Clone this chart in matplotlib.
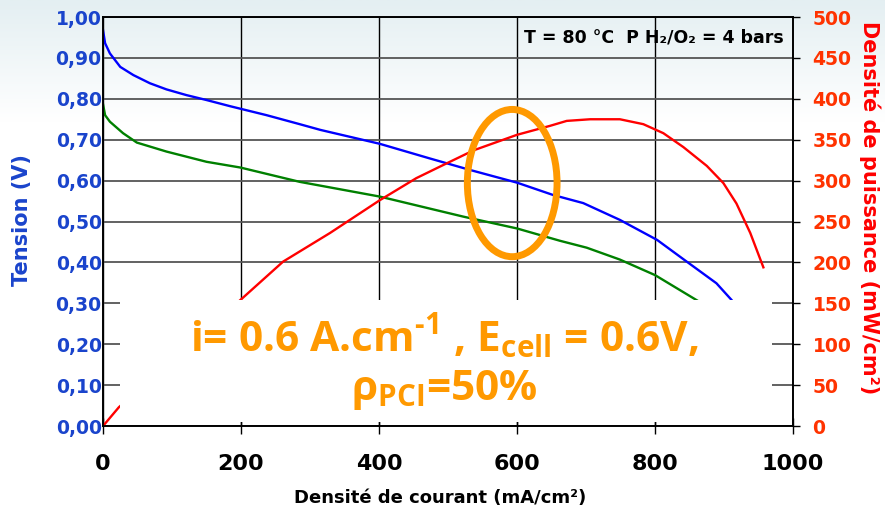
import matplotlib
matplotlib.use("Agg")
import matplotlib.pyplot as plt
import numpy as np
from matplotlib.colors import LinearSegmentedColormap
from matplotlib.patches import Ellipse, Rectangle

# current density (mA/cm2) and cell voltage (V), curve 1 (blue)
i_blue = [0, 3, 10, 25, 44, 68, 92, 121, 150, 184, 237, 285, 315, 401, 474,
          532, 600, 652, 696, 749, 803, 841, 889, 911, 930]
v_blue = [0.968, 0.936, 0.911, 0.878, 0.858, 0.838, 0.823, 0.809, 0.797, 0.782,
          0.760, 0.738, 0.724, 0.690, 0.654, 0.626, 0.595, 0.565, 0.545, 0.504,
          0.455, 0.408, 0.349, 0.308, 0.260]

# curve 2 (green)
i_green = [0, 3, 10, 29, 49, 92, 150, 199, 285, 401, 522, 600, 662, 701, 749,
           800, 862, 880]
v_green = [0.787, 0.760, 0.744, 0.716, 0.693, 0.671, 0.646, 0.632, 0.597, 0.561,
           0.512, 0.483, 0.453, 0.436, 0.407, 0.369, 0.306, 0.280]

# power density (mW/cm2), right axis (red)
i_red = [0, 23, 199, 261, 329, 401, 454, 488, 537, 600, 648, 672, 706, 749, 783,
         812, 841, 875, 899, 918, 938, 952, 957]
p_red = [0, 23, 154, 201, 236, 276, 303, 317, 337, 356, 367, 373, 375, 375, 369,
         358, 341, 318, 297, 272, 236, 205, 194]

x_ticks = [0, 200, 400, 600, 800, 1000]
v_ticks = [0.0, 0.1, 0.2, 0.3, 0.4, 0.5, 0.6, 0.7, 0.8, 0.9, 1.0]
v_labels = ["0,00", "0,10", "0,20", "0,30", "0,40", "0,50", "0,60", "0,70",
            "0,80", "0,90", "1,00"]
p_ticks = [0, 50, 100, 150, 200, 250, 300, 350, 400, 450, 500]

BLUE_TXT = "#1a44cc"
RED_TXT = "#ff3300"
ORANGE = "#ff9900"

plt.rcParams["font.family"] = ["DejaVu Sans"]
plt.rcParams["mathtext.fontset"] = "custom"
plt.rcParams["mathtext.rm"] = "Open Sans:bold"
plt.rcParams["mathtext.bf"] = "Open Sans:bold"
plt.rcParams["mathtext.it"] = "Open Sans:italic"
plt.rcParams["mathtext.default"] = "bf"

fig = plt.figure(figsize=(8.85, 5.09), dpi=100)
fig.patch.set_facecolor("white")

# light gradient background at the top
bg = fig.add_axes([0, 0, 1, 1], zorder=-10)
grad = np.clip(np.linspace(-3.2, 1, 256), 0, 1).reshape(-1, 1)
cmap_bg = LinearSegmentedColormap.from_list("bg", ["#ffffff", "#e4eff2"])
bg.imshow(grad, aspect="auto", extent=[0, 1, 0, 1], origin="lower", cmap=cmap_bg)
bg.axis("off")

ax = fig.add_axes([0.1164, 0.163, 0.7797, 0.8036])
ax.set_facecolor("none")
ax2 = ax.twinx()

ax.plot(i_blue, v_blue, color="#0000ff", lw=1.7, zorder=2)
ax.plot(i_green, v_green, color="#008000", lw=1.7, zorder=2)
ax2.plot(i_red, p_red, color="#ff0000", lw=1.7, zorder=2)

ax.set_xlim(0, 1000)
ax.set_ylim(0, 1.0)
ax2.set_ylim(0, 500)

ax.set_xticks(x_ticks)
ax.set_xticklabels([str(t) for t in x_ticks], fontsize=16, fontweight="bold")
ax.set_yticks(v_ticks)
ax.set_yticklabels(v_labels, fontsize=13.5, fontweight="bold", color=BLUE_TXT)
ax2.set_yticks(p_ticks)
ax2.set_yticklabels([str(t) for t in p_ticks], fontsize=13.5, fontweight="bold",
                    color=RED_TXT)

ax.tick_params(axis="x", direction="inout", length=12, width=1, pad=14)
ax.tick_params(axis="y", length=0, pad=1)
ax2.tick_params(axis="y", direction="out", length=5, width=1, pad=9)

# grid
ax.grid(axis="y", color="#555555", lw=1.3)
ax.grid(axis="x", color="black", lw=1.0)
ax.set_axisbelow(True)
for a in (ax, ax2):
    for s in a.spines.values():
        s.set_color("black")
        s.set_linewidth(1.2)

ax.set_xlabel("Densité de courant (mA/cm²)", fontsize=13, fontweight="bold",
              va="center")
ax.xaxis.set_label_coords(0.488, -0.176)
ax.set_ylabel("Tension (V)", fontsize=15, fontweight="bold", color=BLUE_TXT,
              va="center")
ax.yaxis.set_label_coords(-0.117, 0.504)
ax2.set_ylabel("Densité de puissance (mW/cm²)", fontsize=15, fontweight="bold",
               color="#ff0000", rotation=270, va="center")
ax2.yaxis.set_label_coords(1.111, 0.535)

ax2.text(0.799, 0.951, "T = 80 °C  P H₂/O₂ = 4 bars", transform=ax2.transAxes,
         ha="center", va="center", fontsize=12.5, fontweight="bold", zorder=6)

# white panel with the operating point summary
ax2.add_patch(Rectangle((0.0246, 0.01), 0.945, 0.298, transform=ax2.transAxes,
                        facecolor="white", edgecolor="none", zorder=3))
ax2.text(0.494, 0.218, r"i= 0.6 A.cm$^{\text{-1}}$ , E$_{cell}$ = 0.6V,",
         transform=ax2.transAxes, ha="center", va="center", fontsize=30.5,
         fontweight="bold", family="Open Sans", color=ORANGE, zorder=6)
ax2.text(0.494, 0.088, r"$\rho_{PCI}$=50%", transform=ax2.transAxes,
         ha="center", va="center", fontsize=30.5, fontweight="bold",
         family="Open Sans", color=ORANGE, zorder=6)

ax2.add_patch(Ellipse((593, 0.594), width=130, height=0.36, transform=ax.transData,
                      fill=False, edgecolor=ORANGE, lw=5, zorder=5))

fig.savefig("out.png", dpi=100)
